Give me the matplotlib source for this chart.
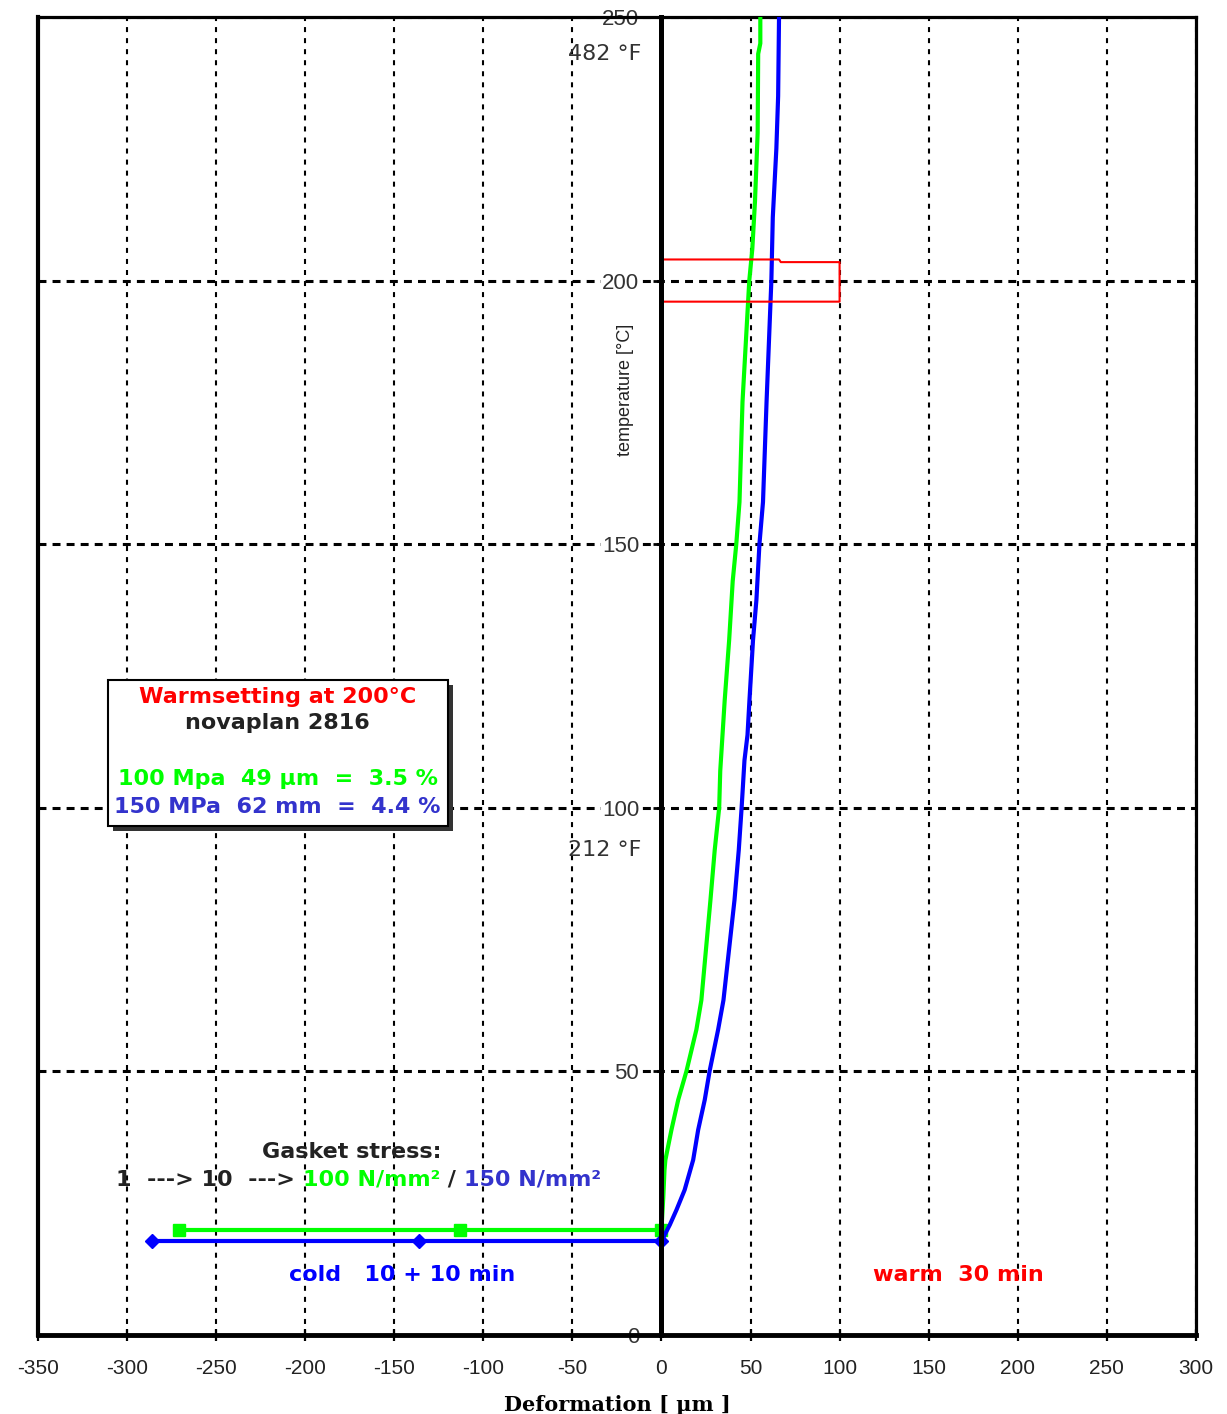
import numpy as np
import matplotlib.pyplot as plt
from matplotlib.patches import Rectangle

plt.rcParams['font.family'] = ['Liberation Sans', 'DejaVu Sans']
plt.rcParams['axes.unicode_minus'] = False

# Data
# cold stage (gasket stress 1 -> 10 -> 100/150 N/mm2)
green_cold_x = [-271, -113, 0]
green_cold_y = [20, 20, 20]
blue_cold_x = [-286, -136, 0]
blue_cold_y = [17.8, 17.8, 17.8]

# warm stage, deformation vs temperature
green_warm_x = [0, 1, 1.7, 2.2, 5.6, 9.4, 14, 19.6, 22.4, 27.5, 29.9, 32.4, 33, 35.5,
                38, 40, 42, 43.8, 45.5, 49.3, 51, 52.5, 54, 54.3, 55.5, 55.5]
green_warm_y = [20, 26, 31.3, 33.2, 38.9, 44.6, 50, 57.9, 63.5, 82.5, 92, 100, 107, 120.4,
                131.8, 143, 150, 158, 177, 200, 206, 215, 228, 243, 245, 250]
blue_warm_x = [0, 4.7, 8.4, 13, 17.8, 20.6, 24.3, 27, 31.8, 34.8, 41, 43.4, 45, 46.6,
               48.3, 49.4, 51.4, 53.3, 55, 57, 59, 61.7, 62.5, 64.5, 65.5, 66]
blue_warm_y = [17.8, 20.9, 23.7, 27.5, 33.2, 38.9, 44.6, 50, 57.9, 63.5, 82.5, 92, 100, 109,
               113.8, 120.4, 131.8, 139.4, 150, 158, 177, 200, 212, 225, 235, 250]

# 200 C marker box
box_x = [0.8, 0.8, 66, 67, 100, 100, 0.8]
box_y = [196, 204, 204, 203.5, 203.5, 196, 196]

x_ticks = np.arange(-350, 301, 50)
y_ticks = np.arange(0, 251, 50)

GREEN = '#00ff00'
BLUE = '#0000ff'
RED = '#ff0000'
WIDE = ['DejaVu Sans']

fig = plt.figure(figsize=(12.27, 14.14), dpi=100)
ax = fig.add_axes([0.031, 0.0559, 0.9436, 0.9321])
ax.set_xlim(-350, 300)
ax.set_ylim(0, 250)

# grid
ax.set_xticks(x_ticks)
ax.set_yticks(y_ticks)
ax.xaxis.grid(True, color='black', lw=1.5, linestyle=(0, (2.4, 2.9)))
ax.yaxis.grid(True, color='black', lw=2.2, linestyle=(0, (2.6, 2.0)))
ax.set_axisbelow(True)

# frame
for s in ['top', 'right']:
    ax.spines[s].set_linewidth(2.3)
ax.spines['bottom'].set_linewidth(3.5)
ax.spines['left'].set_position(('data', 0))
ax.spines['left'].set_linewidth(3.6)
ax.spines['left'].set_zorder(4)
ax.axvline(-350, color='black', lw=3, zorder=5, clip_on=False)

ax.tick_params(axis='x', direction='inout', length=9, width=1.6, pad=13,
               labelsize=15, labelcolor='#222222')
ax.tick_params(axis='y', direction='out', length=6, width=2, pad=10,
               labelsize=16, labelcolor='#333333')
for t in ax.get_yticklabels():
    t.set_bbox(dict(facecolor='white', edgecolor='none', pad=0.5))
    t.set_zorder(6)

# curves
ax.plot(green_cold_x, green_cold_y, color=GREEN, lw=3, marker='s', ms=9, zorder=3)
ax.plot(blue_cold_x, blue_cold_y, color=BLUE, lw=3, marker='D', ms=7, zorder=3)
ax.plot(green_warm_x, green_warm_y, color=GREEN, lw=3, zorder=3)
ax.plot(blue_warm_x, blue_warm_y, color=BLUE, lw=3, zorder=3)

ax.plot(box_x, box_y, color=RED, lw=1.5, zorder=4)

# temperature annotations
ax.text(-11, 243, '482 °F', ha='right', va='center', fontsize=16, color='#333333',
        family=WIDE)
ax.text(-11, 92, '212 °F', ha='right', va='center', fontsize=16, color='#333333',
        family=WIDE)
ax.text(-20, 179.2, 'temperature [°C]', rotation=90, ha='center', va='center',
        fontsize=13, color='#222222')

# info box with shadow
bx0, bx1, by0, by1 = -311, -120, 96.5, 124.2
ax.add_patch(Rectangle((bx0 + 3, by0 - 1), bx1 - bx0, by1 - by0, facecolor='#333333',
                       edgecolor='none', zorder=5))
ax.add_patch(Rectangle((bx0, by0), bx1 - bx0, by1 - by0, facecolor='white',
                       edgecolor='black', lw=1.5, zorder=6))
bxc = (bx0 + bx1) / 2
box_lines = [(121, 'Warmsetting at 200°C', RED),
             (116.1, 'novaplan 2816', '#222222'),
             (105.5, '100 Mpa  49 µm  =  3.5 %', GREEN),
             (100.2, '150 MPa  62 mm  =  4.4 %', '#3333cc')]
for yy, s, c in box_lines:
    ax.text(bxc, yy, s, color=c, ha='center', va='center', fontsize=16,
            fontweight='bold', family=WIDE, zorder=7)

# gasket stress notes
ax.text(-174, 34.7, 'Gasket stress:', color='#222222', ha='center', va='center',
        fontsize=16, fontweight='bold', family=WIDE)
parts = [('1  ---> 10  ---> ', '#222222'), ('100 N/mm²', GREEN), (' / ', '#222222'),
         ('150 N/mm²', '#3333cc')]
prev = ax.text(-306, 29.4, parts[0][0], color=parts[0][1], ha='left', va='center',
               fontsize=16, fontweight='bold', family=WIDE)
for s, c in parts[1:]:
    prev = ax.annotate(s, xy=(1, 0.5), xycoords=prev, ha='left', va='center',
                       color=c, fontsize=16, fontweight='bold', family=WIDE)

ax.text(-209, 11.4, 'cold   10 + 10 min', color=BLUE, ha='left', va='center',
        fontsize=16, fontweight='bold', family=WIDE)
ax.text(119, 11.4, 'warm  30 min', color=RED, ha='left', va='center',
        fontsize=16, fontweight='bold', family=WIDE)

ax.set_xlabel('Deformation [ µm ]', family=['DejaVu Serif'], fontweight='bold',
              fontsize=15, labelpad=12)

fig.savefig('out.png', dpi=100)
